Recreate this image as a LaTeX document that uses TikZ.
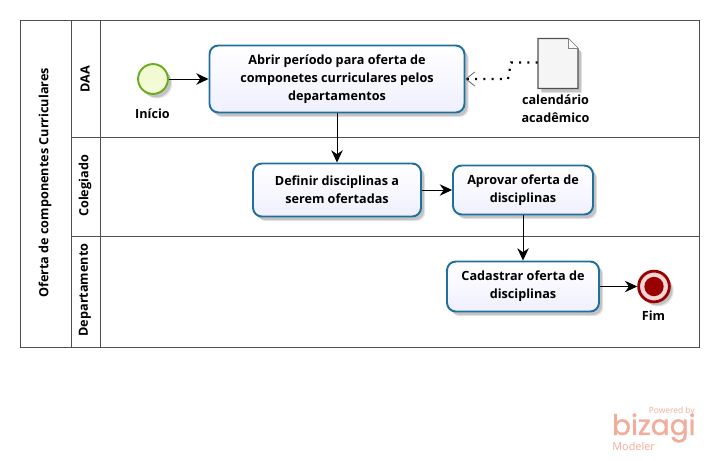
\documentclass[tikz,border=0pt]{standalone}
\usepackage{fontspec}
\setmainfont{Open Sans}
\newfontfamily\logofont[FakeBold=1.2]{Poppins}
\usetikzlibrary{arrows.meta,shadows}
\definecolor{lanegray}{HTML}{505050}
\definecolor{taskblue}{HTML}{1F6F9F}
\definecolor{startgreen}{HTML}{6AAB1F}
\definecolor{startfill}{HTML}{F1FAD0}
\definecolor{endred}{HTML}{990000}
\definecolor{endring}{HTML}{F5D5D5}
\definecolor{logopink}{HTML}{F2AC9C}
\tikzset{
	softshadow/.style={
		drop shadow={shadow xshift=2.4pt,shadow yshift=-2.6pt,opacity=.10,fill=black},
		drop shadow={shadow xshift=1.8pt,shadow yshift=-2pt,opacity=.15,fill=black}},
	lane/.style={draw=lanegray, line width=0.55pt},
	lanetitle/.style={rotate=90, font=\fontsize{7.2}{9}\selectfont\bfseries},
	task/.style={draw=taskblue, line width=1.1pt, rounded corners=5pt, top color=white, bottom color=blue!6,
		align=center, inner sep=0pt, font=\fontsize{7.2}{10.2}\selectfont\bfseries, softshadow},
	label/.style={align=center, font=\fontsize{7.2}{10}\selectfont\bfseries},
	flow/.style={-{Stealth[length=7pt,width=6.5pt]}, black, line width=0.55pt},
	assoc/.style={-{Straight Barb[length=5pt,width=8pt,line width=0.4pt,color=lanegray]}, black, line width=1.2pt, dash pattern=on 1.2pt off 3.5pt},
	startev/.style={circle, draw=startgreen, line width=1.1pt, inner sep=0pt, minimum size=17pt, top color=startfill, bottom color=startfill!80!white, softshadow},
	endev/.style={circle, draw=endred, line width=1.6pt, fill=endring, inner sep=0pt, minimum size=17.5pt, softshadow},
	endcore/.style={circle, fill=endred, inner sep=0pt, minimum size=11pt},
	logo/.style={logopink, inner sep=0pt}
}
\begin{document}
\begin{tikzpicture}[x=0.02cm,y=-0.02cm]
	\useasboundingbox (0,0) rectangle (719,460);
	% pool and lanes
	\draw[lane] (20.5,20.5) rectangle (699,347);
	\draw[lane] (71,20.5) -- (71,347);
	\draw[lane] (100.5,20.5) -- (100.5,347);
	\draw[lane] (71,137) -- (699,137);
	\draw[lane] (71,236.5) -- (699,236.5);
	\node[lanetitle] (pool) at (45,183) {Oferta de componentes Curriculares};
	\node[lanetitle] (daa) at (85,79) {DAA};
	\node[lanetitle] (colegiado) at (85,186) {Colegiado};
	\node[lanetitle] (departamento) at (85,290) {Departamento};

	% events and tasks
	\node[startev] (inicio) at (153,79) {};
	\node[label] (inicioText) at (152.5,114) {Início};
	\node[task, minimum width=5.1cm, minimum height=1.34cm] (abrir) at (337,79)
		{Abrir período para oferta de\\ componetes curriculares pelos\\ departamentos};
	\node[task, minimum width=3.36cm, minimum height=1.06cm] (definir) at (337,190)
		{Definir disciplinas a\\ serem ofertadas};
	\node[task, minimum width=2.8cm, minimum height=0.98cm] (aprovar) at (523,190)
		{Aprovar oferta de\\ disciplinas};
	\node[task, minimum width=3.04cm, minimum height=1cm] (cadastrar) at (523,286.5)
		{Cadastrar oferta de\\ disciplinas};
	\node[endev] (fim) at (654,286.5) {};
	\node[endcore] (fimCore) at (fim) {};
	\node[label] (fimText) at (653.5,316) {Fim};

	% document
	\draw[lanegray, line width=0.6pt, fill=white!96!black, softshadow] (538,38.5) -- (568,38.5) -- (578,48.5) -- (578,88.5) -- (538,88.5) -- cycle;
	\draw[lanegray!70, line width=0.5pt, fill=white] (568,38.5) -- (568,48.5) -- (578,48.5);
	\node[inner sep=0pt, minimum width=0.8cm, minimum height=1cm] (doc) at (558,63.5) {};
	\node[label] (docText) at (555.5,108.5) {calendário\\ acadêmico};
	\coordinate (docBendA) at (511,62.5);
	\coordinate (docBendB) at (508,79);

	% flows
	\draw[flow] (inicio) -- (abrir);
	\draw[flow] (abrir) -- (definir);
	\draw[flow] (definir) -- (aprovar);
	\draw[flow] (aprovar) -- (cadastrar);
	\draw[flow] (cadastrar) -- (fim);
	\draw[assoc] (doc.west |- docBendA) -- (docBendA) -- (docBendB) -- (abrir.east);

	% logo
	\node[logo, anchor=east, font=\fontsize{4.8}{6}\selectfont] (powered) at (695,411) {Powered by};
	\node[logo, anchor=east, font=\logofont\fontsize{16}{17}\selectfont] (bizagi) at (696,428) {bizagi};
	\node[logo, anchor=west, font=\fontsize{6.2}{7}\selectfont] (modeler) at (612,446) {Modeler};
\end{tikzpicture}
\end{document}
